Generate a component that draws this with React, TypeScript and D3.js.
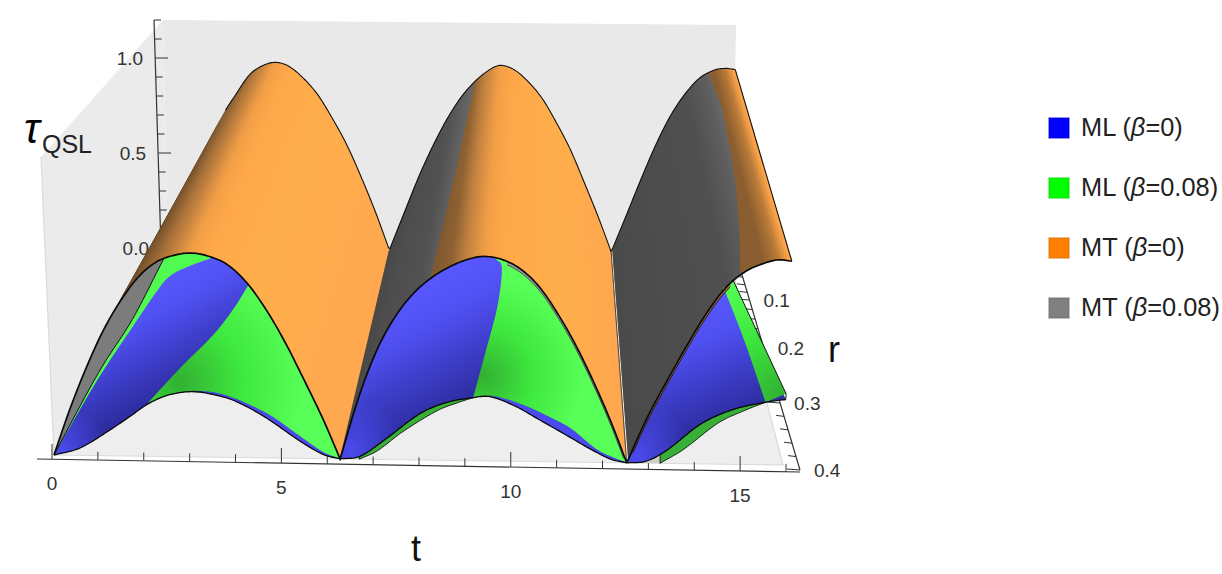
import React from "react";
import * as d3 from "d3";

// ---------- data ----------
const gridT = [0,.4,.8,1.2,1.6,2,2.4,2.8,3.14,3.5,3.9,4.3,4.7,5.1,5.5,5.9,6.28,6.7,7.1,7.5,7.9,8.3,8.7,9.1,9.42,9.8,10.2,10.6,11,11.4,11.8,12.2,12.57,13,13.4,13.8,14.2,14.6,15,15.4,15.71,16];
// MT surface at r = 0 (back ridge)
const ridgeTau = [0,.2,.385,.55,.70,.815,.92,.97,.985,.965,.905,.82,.70,.565,.40,.22,.03,.22,.40,.56,.70,.815,.90,.96,.985,.965,.905,.82,.70,.565,.40,.23,.059,.25,.43,.60,.745,.855,.935,.975,.985,.98];
// MT surface at r = 0.4 (front edge)
const midTau = [0,.19,.36,.51,.63,.725,.785,.812,.82,.808,.775,.705,.60,.47,.32,.165,0,.25,.44,.575,.67,.735,.78,.81,.82,.808,.77,.70,.595,.47,.325,.165,0,.185,.33,.47,.60,.705,.77,.805,.82,.815];
// ML (beta=0) at r = 0.4
const blueLowT = [0,.58,1.25,1.7,2.13,2.6,3.14,3.8,4.2,4.7,5.4,5.9,6.28,6.72,7.3,8.02,8.6,9.15,9.55,10.1,10.6,11.33,11.7,12.2,12.57,13,13.45,14.17,14.87,15.56,16];
const blueLowTau = [0,.03,.104,.16,.214,.25,.262,.24,.21,.158,.07,.018,0,.012,.085,.185,.232,.252,.258,.222,.172,.098,.06,.015,0,.008,.054,.16,.22,.25,.262];
// ML (beta=0.08) at r = 0.4
const greenDescAT = [2.1,2.6,3.14,3.8,4.7,5.4,5.9,6.28];
const greenDescATau = [.215,.25,.266,.25,.178,.09,.028,0];
const greenAscBT = [6.7,7.1,7.65,8.42,8.9,9.19];
const greenAscBTau = [0,.035,.112,.2,.235,.253];
const greenDescBT = [9.19,9.55,9.9,10.4,10.97,11.33,11.93,12.57];
const greenDescBTau = [.253,.262,.25,.218,.17,.135,.05,0];
const greenAscCT = [13.3,13.8,14.55,15.1,15.56];
const greenAscCTau = [0,.056,.165,.215,.25];
// ML region borders
const sepAT = [2.1,2.83,3.55,4.0,4.33];
const sepATau = [.215,.358,.49,.595,.69];
const sepBT = [9.19,9.45,9.7,9.79,9.69,9.55];
const sepBTau = [.253,.435,.62,.77,.805,.82];
const sepCT = [15.56,15.03,14.55];
const sepCTau = [.25,.503,.71];
const edgeAT = [0,1.05,1.82,2.55];
const edgeATau = [0,.335,.55,.8];
const innerAT = [0,1.0,1.82,2.35,2.65,3.05,3.55];
const innerATau = [0,.30,.52,.66,.725,.765,.80];
// MT beta=0.08 / beta=0 border: t against depth fraction
const borderBT = [8.71,8.5,8.25];
const borderBF = [0,.42,1];
const borderCT = [15.24,15.36,15.29,15.22,15.08,14.9];
const borderCF = [0,.19,.45,.6,.8,1];
// shading along t
const orangeT = [0,1.5,2.2,2.7,3.1,3.5,4.5,6.28,6.29,8.2,8.7,9.0,9.4,9.8,11,12.57,12.58,15.0,15.4,15.7,15.95,16];
const orangeC = ["#6a4b2c","#6a4b2c","#8f6232","#c08040","#f09e46","#ffa84a","#ffae4c","#ffa850","#7a5630","#7a5630","#8f6232","#c08040","#f09e46","#ffa84a","#ffae4c","#ffa750","#8a5e30","#8a5e30","#8a5e30","#b87a38","#ffa548","#ffa548"];
const grayT = [6.28,8.0,8.7,12.57,14.6,15.1,15.6];
const grayC = ["#4a4a4a","#525252","#6a6a6a","#4a4a4a","#505050","#5e5e5e","#767676"];
// axes and labels
const tTicks = d3.range(0, 17);
const tLabels = [0, 5, 10, 15];
const zTicks = d3.range(0, 13).map((d) => d / 10);
const zLabels = ["0.0", "0.5", "1.0"];
const rTicks = d3.range(1, 21).map((d) => d * 0.02);
const rLabels = ["0.1", "0.2", "0.3", "0.4"];
const legendNames = ["ML", "ML", "MT", "MT"];
const legendBetas = ["0", "0.08", "0", "0.08"];
const legendColors = ["#0000ff", "#00ff00", "#ff8000", "#808080"];

// ---------- scales and projection of the plot box ----------
const W = 1222, H = 574;
const FONT = "'Liberation Sans', Arial, sans-serif";
const tS = d3.scaleLinear().domain([0, 16]).range([0, 1]);
const rS = d3.scaleLinear().domain([0, 0.4]).range([0, 1]);
const zS = d3.scaleLinear().domain([0, 1.2]).range([0, 1]);
type Pt = [number, number];
// corners [r][t][tau]
const box: Pt[][][] = [
  [[[168, 248], [163, 20]], [[732, 268], [736, 25]]],
  [[[54, 455], [41, 157]], [[783, 465], [796, 165]]],
];
const lerp = (a: number, b: number, f: number) => a + (b - a) * f;
const P = (t: number, r: number, tau: number): Pt => {
  const u = tS(t), v = rS(r), w = zS(tau);
  const corner = (k: number) =>
    lerp(
      lerp(lerp(box[0][0][0][k], box[0][0][1][k], w), lerp(box[0][1][0][k], box[0][1][1][k], w), u),
      lerp(lerp(box[1][0][0][k], box[1][0][1][k], w), lerp(box[1][1][0][k], box[1][1][1][k], w), u),
      v
    );
  return [corner(0), corner(1)];
};
const tAxisX = d3.scaleLinear().domain([0, 16]).range([52, 786]);
const tAxisY = d3.scaleLinear().domain([0, 16]).range([459, 471.8]);
const zAxisY = d3.scaleLinear().domain([0, 1.2]).range([248, 20]);
const zAxisX = d3.scaleLinear().domain([0, 1.2]).range([161, 154]);
const rAxisY = d3.scaleLinear().domain([0, 0.1, 0.2, 0.3, 0.4]).range([262, 300, 348, 403, 470]);
const rAxisX = (r: number) => 800 - (470 - rAxisY(r)) * 0.297;

const makeCurve = (ts: number[], vs: number[]) => {
  const n = ts.length;
  const sec = (i: number) => (vs[i + 1] - vs[i]) / (ts[i + 1] - ts[i]);
  const mL: number[] = [], mR: number[] = [];
  for (let i = 0; i < n; i++) {
    if (i === 0) { mL[i] = mR[i] = sec(0); continue; }
    if (i === n - 1) { mL[i] = mR[i] = sec(n - 2); continue; }
    if (vs[i] < vs[i - 1] && vs[i] < vs[i + 1]) { mL[i] = sec(i - 1); mR[i] = sec(i); }
    else mL[i] = mR[i] = (vs[i + 1] - vs[i - 1]) / (ts[i + 1] - ts[i - 1]);
  }
  return (t: number) => {
    const c = Math.max(ts[0], Math.min(ts[n - 1], t));
    const i = Math.min(n - 2, Math.max(0, d3.bisectRight(ts, c) - 1));
    const h = ts[i + 1] - ts[i], s = (c - ts[i]) / h;
    return (
      (2 * s ** 3 - 3 * s ** 2 + 1) * vs[i] + (s ** 3 - 2 * s ** 2 + s) * h * mR[i] +
      (-2 * s ** 3 + 3 * s ** 2) * vs[i + 1] + (s ** 3 - s ** 2) * h * mL[i + 1]
    );
  };
};
const ridge = makeCurve(gridT, ridgeTau);
const mid = makeCurve(gridT, midTau);
const blueLow = makeCurve(blueLowT, blueLowTau);
const greenA = makeCurve(greenDescAT, greenDescATau);
const greenB = makeCurve(greenAscBT, greenAscBTau);
const greenC = makeCurve(greenDescBT, greenDescBTau);
const greenD = makeCurve(greenAscCT, greenAscCTau);
const samples = (a: number, b: number) => {
  const n = Math.max(2, Math.ceil(Math.abs(b - a) / 0.04));
  return d3.range(n + 1).map((i) => a + ((b - a) * i) / n);
};
const along = (fn: (t: number) => number, a: number, b: number, r = 0.4): Pt[] =>
  samples(a, b).map((t) => P(t, r, fn(t)));
// smooth path through (t, tau) border points on the front plane
const smooth = (ts: number[], vs: number[]): Pt[] => {
  const idx = ts.map((_, i) => i);
  const tf = makeCurve(idx, ts), vf = makeCurve(idx, vs);
  return d3.range(0, (ts.length - 1) * 12 + 1).map((k) => P(tf(k / 12), 0.4, vf(k / 12)));
};
const line = d3.line<Pt>();
const poly = (p: Pt[]) => line(p) + "Z";
const orangeScale = d3.scaleLinear<string>().domain(orangeT).range(orangeC).clamp(true);
const grayScale = d3.scaleLinear<string>().domain(grayT).range(grayC).clamp(true);

const STEP = 0.05;
const VALLEYS = [6.28, 12.57, 16];
const strip = (t: number) => {
  let e = t + 2 * STEP;
  for (const v of VALLEYS) if (t < v - 1e-6 && e > v) e = v;
  return poly([P(t, 0, ridge(t)), P(e, 0, ridge(e)), P(e, 0.4, mid(e)), P(t, 0.4, mid(t))]);
};
const stripTs = d3.range(0, 16, STEP);
const borderPts = (ts: number[], fs: number[]): Pt[] =>
  ts.map((t, i) => {
    const a = P(t, 0, ridge(t)), b = P(t, 0.4, mid(t));
    return [lerp(a[0], b[0], fs[i]), lerp(a[1], b[1], fs[i])] as Pt;
  });
const grayClipB = poly([...along(ridge, 6.28, 8.71, 0), ...borderPts(borderBT, borderBF), ...along(mid, 8.25, 6.28)]);
const grayClipC = poly([...along(ridge, 12.57, 15.24, 0), ...borderPts(borderCT, borderCF), ...along(mid, 14.9, 12.57)]);
const grayTs = stripTs.filter((t) => (t >= 6.28 && t < 8.8) || (t >= 12.57 && t < 15.6));

const blueEnd = P(16, 0.4, 0.262);
const blueA = poly([...along(mid, 0, 6.28), ...along(blueLow, 6.28, 0)]);
const blueB = poly([...along(mid, 6.28, 12.57), ...along(blueLow, 12.57, 6.28)]);
const blueC = poly([...along(mid, 12.57, 14.76), blueEnd, ...along(blueLow, 16, 12.57)]);
const greenPolyA = poly([...smooth(sepAT, sepATau), ...along(mid, 4.33, 6.28), ...along(greenA, 6.28, 2.1)]);
const greenPolyB = poly([...smooth(sepBT, sepBTau), ...along(mid, 9.55, 12.57), ...along(greenC, 12.57, 9.19)]);
const greenTop = P(14.76, 0.4, mid(14.76));
const greenEnd = P(16, 0.4, 0.285);
const greenPolyC = poly([...smooth(sepCT, sepCTau), ...along(mid, 14.55, 14.76), greenEnd, P(15.56, 0.4, 0.25)]);
const stripB = poly([...along(greenB, 6.7, 9.19), ...along(blueLow, 9.19, 6.7)]);
const stripC = poly([...along(greenD, 13.3, 15.56), ...along(blueLow, 15.56, 13.3)]);
const patchB = poly([...along(blueLow, 6.33, 6.7), P(6.7, 0.4, 0), P(6.33, 0.4, 0)]);
const patchC = poly([...along(blueLow, 12.8, 13.3), P(13.3, 0.4, 0), P(12.8, 0.4, 0)]);
const slitherA = poly([...along(greenA, 3.3, 6.28), ...along(blueLow, 6.28, 3.3)]);
const slitherB = poly([...along(greenC, 9.55, 12.57), ...along(blueLow, 12.57, 9.55)]);
const edgeA = smooth(edgeAT, edgeATau);
const grayBand = poly([...along(mid, 0, 2.55), ...[...edgeA].reverse()]);
const greenBand = poly([...edgeA, ...along(mid, 2.55, 3.55), ...smooth(innerAT, innerATau).reverse()]);
const innerOffset = (d: number) => (t: number) => mid(t) - d;
const seamGray = poly([...along(mid, 9.9, 12.5), ...along(innerOffset(0.014), 12.5, 9.9)]);
const seamBrown = poly([...along(mid, 12.7, 14.7), ...along(innerOffset(0.016), 14.7, 12.7)]);

const radial = (id: string, c: Pt, r: number, colors: string[]) => (
  <radialGradient key={id} id={id} gradientUnits="userSpaceOnUse" cx={c[0]} cy={c[1]} r={r}>
    {colors.map((col, i) => (
      <stop key={i} offset={i / (colors.length - 1)} stopColor={col} />
    ))}
  </radialGradient>
);
const linear = (id: string, a: Pt, b: Pt, colors: string[]) => (
  <linearGradient key={id} id={id} gradientUnits="userSpaceOnUse" x1={a[0]} y1={a[1]} x2={b[0]} y2={b[1]}>
    {colors.map((col, i) => (
      <stop key={i} offset={i / (colors.length - 1)} stopColor={col} />
    ))}
  </linearGradient>
);
const fade = (id: string, c: Pt, r: number) => (
  <radialGradient key={id} id={id} gradientUnits="userSpaceOnUse" cx={c[0]} cy={c[1]} r={r}>
    <stop offset={0} stopColor="#4c4cf0" stopOpacity={0.95} />
    <stop offset={1} stopColor="#4c4cf0" stopOpacity={0} />
  </radialGradient>
);
const BLUE = ["#5858ff", "#5050f2", "#3e3ecb", "#2e2ea2"];
const GREEN = ["#32b032", "#3ee83e", "#58ff58"];
const txt = { fontFamily: FONT, fill: "#333", fontSize: 19 } as const;

export default function App() {
  return (
    <svg width={W} height={H} style={{ position: "absolute", left: 0, top: 0, display: "block", background: "#fff" }}>
      <defs>
        {linear("bA", P(2.3, 0.4, 0.72), P(3.35, 0.4, 0.34), BLUE)}
        {linear("bB", P(7.7, 0.4, 0.68), P(8.95, 0.4, 0.24), BLUE)}
        {linear("bC", P(14.0, 0.4, 0.66), P(15.1, 0.4, 0.22), BLUE)}
        {fade("fA", P(0.2, 0.4, 0.02), 45)}
        {fade("fB", P(6.5, 0.4, 0.03), 55)}
        {fade("fC", P(12.8, 0.4, 0.03), 55)}
        {radial("gA", P(2.8, 0.4, 0.3), 125, GREEN)}
        {radial("gB", P(9.4, 0.4, 0.34), 100, GREEN)}
        {radial("gC", P(15.9, 0.4, 0.28), 130, GREEN)}
        <clipPath id="grayB"><path d={grayClipB} /></clipPath>
        <clipPath id="grayC"><path d={grayClipC} /></clipPath>
      </defs>

      {/* box faces */}
      <path d={poly([P(0, 0, 1.2), P(0, 0.4, 1.2), P(0, 0.4, 0), P(0, 0, 0)])} fill="#ebebeb" />
      <path d={poly([P(0, 0, 1.2), P(16, 0, 1.2), P(16, 0, 0), P(0, 0, 0)])} fill="#e9e9e9" />
      <path d={poly([P(0, 0, 0), P(16, 0, 0), P(16, 0.4, 0), P(0, 0.4, 0)])} fill="#eeeeee" />
      <path d={line([P(0, 0.4, 1.2), P(0, 0.4, 0), P(16, 0.4, 0), P(16, 0, 0)]) as string} fill="none" stroke="#dadada" strokeWidth={1.2} />

      {/* axes */}
      <g stroke="#333" fill="none">
        <line x1={37} y1={tAxisY(0)} x2={800} y2={472} strokeWidth={1.2} />
        {tTicks.map((t) => (
          <line key={t} x1={tAxisX(t)} x2={tAxisX(t)} y1={tAxisY(t)} y2={tAxisY(t) - (t % 5 === 0 ? 15 : 8)} strokeWidth={1} />
        ))}
        <line x1={zAxisX(1.2)} y1={zAxisY(1.2)} x2={zAxisX(0)} y2={zAxisY(0)} strokeWidth={1.2} />
        {zTicks.map((z) => (
          <line key={z} x1={zAxisX(z)} y1={zAxisY(z)} x2={zAxisX(z) + (Math.round(z * 10) % 5 === 0 ? 13 : 7)} y2={zAxisY(z)} strokeWidth={1} />
        ))}
        <line x1={rAxisX(0)} y1={rAxisY(0)} x2={rAxisX(0.4)} y2={rAxisY(0.4)} strokeWidth={1.2} />
        {rTicks.map((r) => (
          <line key={r} x1={rAxisX(r)} y1={rAxisY(r)} x2={rAxisX(r) - (Math.round(r * 100) % 10 === 0 ? 13 : 8)} y2={rAxisY(r) - 1} strokeWidth={1} />
        ))}
      </g>
      {tLabels.map((t) => (
        <text key={t} {...txt} x={tAxisX(t)} y={tAxisY(t) + 31} textAnchor="middle">{t}</text>
      ))}
      {zLabels.map((z) => (
        <text key={z} {...txt} x={zAxisX(+z) - 12} y={zAxisY(+z) + 7} textAnchor="end">{z}</text>
      ))}
      {rLabels.map((r) => (
        <text key={r} {...txt} x={rAxisX(+r) + 14} y={rAxisY(+r) + 7}>{r}</text>
      ))}
      <text x={24} y={143} fontFamily={FONT} fontSize={42} fontStyle="italic" fill="#000">τ</text>
      <text x={42} y={153} fontFamily={FONT} fontSize={25} fill="#222">QSL</text>
      <text x={411} y={561} fontFamily={FONT} fontSize={36} fill="#111">t</text>
      <text x={828} y={362} fontFamily={FONT} fontSize={36} fill="#111">r</text>

      {/* MT surfaces */}
      {stripTs.map((t) => (
        <path key={t} d={strip(t)} fill={orangeScale(t + STEP / 2)} />
      ))}
      <g clipPath="url(#grayB)">
        {grayTs.filter((t) => t < 9).map((t) => (
          <path key={t} d={strip(t)} fill={grayScale(t)} />
        ))}
      </g>
      <g clipPath="url(#grayC)">
        {grayTs.filter((t) => t > 9).map((t) => (
          <path key={t} d={strip(t)} fill={grayScale(t)} />
        ))}
      </g>
      <path d={line(along(ridge, 1.7, 16, 0)) as string} fill="none" stroke="#111" strokeWidth={1.1} />
      <path d={line([P(16, 0, ridge(16)), P(16, 0.4, mid(16))]) as string} fill="none" stroke="#111" strokeWidth={1.1} />
      <path d={line([P(6.28, 0, ridge(6.28)), P(6.28, 0.4, 0)]) as string} fill="none" stroke="#333" strokeWidth={0.8} />
      <path d={line([P(12.57, 0, ridge(12.57)), P(12.57, 0.4, 0)]) as string} fill="none" stroke="#333" strokeWidth={0.8} />

      {/* ML surfaces */}
      <path d={patchB} fill="#cfcfcf" />
      <path d={patchC} fill="#cfcfcf" />
      <path d={stripB} fill="#38b038" stroke="#111" strokeWidth={0.9} />
      <path d={stripC} fill="#38b038" stroke="#111" strokeWidth={0.9} />
      <path d={blueA} fill="url(#bA)" />
      <path d={blueB} fill="url(#bB)" />
      <path d={blueC} fill="url(#bC)" />
      <path d={blueA} fill="url(#fA)" />
      <path d={blueB} fill="url(#fB)" />
      <path d={blueC} fill="url(#fC)" />
      <path d={slitherA} fill="#4a4aee" />
      <path d={slitherB} fill="#4a4aee" />
      <path d={greenPolyA} fill="url(#gA)" />
      <path d={greenPolyB} fill="url(#gB)" />
      <path d={greenPolyC} fill="url(#gC)" />
      <path d={grayBand} fill="#7c7c7c" />
      <path d={greenBand} fill="#50fa50" />
      <path d={line(edgeA) as string} fill="none" stroke="#111" strokeWidth={1} />
      <path d={seamGray} fill="#9a9a9a" />
      <path d={seamBrown} fill="#a06a30" />
      <path d={line(along(innerOffset(0.014), 9.9, 12.5)) as string} fill="none" stroke="#222" strokeWidth={0.7} />
      <path d={line(along(innerOffset(0.016), 12.7, 14.7)) as string} fill="none" stroke="#111" strokeWidth={0.9} />
      <path d={line(along(blueLow, 0, 16)) as string} fill="none" stroke="#0a0a0a" strokeWidth={1.3} />
      <path d={line([greenTop, greenEnd, blueEnd]) as string} fill="none" stroke="#111" strokeWidth={1} />
      <path d={line(along(mid, 0, 16)) as string} fill="none" stroke="#0a0a0a" strokeWidth={1.7} />

      {/* legend */}
      {legendNames.map((n, i) => {
        const y = 118 + i * 60;
        return (
          <g key={i}>
            <rect x={1049} y={y} width={20} height={20} fill={legendColors[i]} stroke={d3.color(legendColors[i])!.darker(0.5).formatHex()} strokeOpacity={0.6} strokeWidth={1.4} />
            <text x={1081} y={y + 18} fontFamily={FONT} fontSize={25.4} fill="#222">
              {n} (<tspan fontStyle="italic">β</tspan>={legendBetas[i]})
            </text>
          </g>
        );
      })}
    </svg>
  );
}
